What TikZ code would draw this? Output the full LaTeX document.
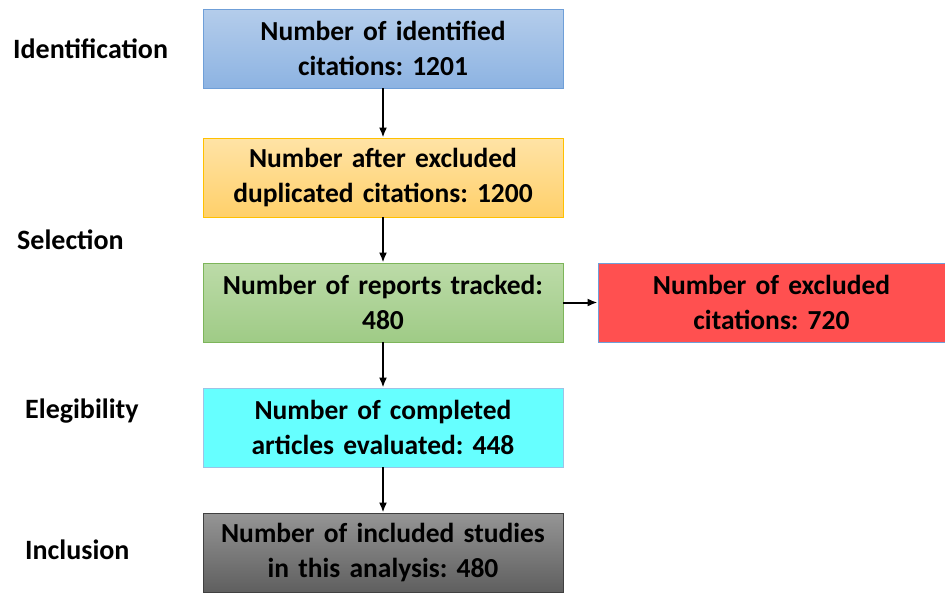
\documentclass[tikz,border=0pt]{standalone}
\usepackage{fontspec}
\setmainfont{Carlito}[WordSpace=0.8]
\usetikzlibrary{arrows.meta}
\frenchspacing
\definecolor{bluetop}{HTML}{B4CDEB}
\definecolor{bluebot}{HTML}{8DB3E2}
\definecolor{blueline}{HTML}{6F9FD8}
\definecolor{orangetop}{HTML}{FFE3A6}
\definecolor{orangebot}{HTML}{FFD06A}
\definecolor{orangeline}{HTML}{FFC000}
\definecolor{greentop}{HTML}{BCDBA8}
\definecolor{greenbot}{HTML}{9FCB86}
\definecolor{greenline}{HTML}{7DB55A}
\definecolor{cyanfill}{HTML}{66FFFF}
\definecolor{cyanline}{HTML}{9DC3E6}
\definecolor{redfill}{HTML}{FF5050}
\definecolor{grytop}{HTML}{959595}
\definecolor{grybot}{HTML}{5F5F5F}
\definecolor{gryline}{HTML}{404040}
\begin{document}
\begin{tikzpicture}[x=1pt, y=-1pt]
\tikzset{box/.style = {rectangle, minimum width=360pt, minimum height=79pt, text width=355pt,
   align=center, inner sep=0pt, line width=.8pt, font=\fontsize{27.5}{35}\selectfont\bfseries}}
\tikzset{edge/.style = {-{Latex[length=10pt, width=8pt]}, line width=2pt}}
\tikzset{stage/.style = {anchor=west, inner sep=0pt, font=\fontsize{28}{32}\selectfont\bfseries}}

\useasboundingbox (0, 0) rectangle (945, 592);

% boxes of the flow
\node[box, draw=blueline, top color=bluetop, bottom color=bluebot] (ident) at (383, 48.5)
   {Number of identified\\ citations: 1201};
\node[box, draw=orangeline, top color=orangetop, bottom color=orangebot] (dupl) at (383, 177.5)
   {Number after excluded\\ duplicated citations: 1200};
\node[box, draw=greenline, top color=greentop, bottom color=greenbot] (track) at (383, 302.5)
   {Number of reports tracked:\\ 480};
\node[box, draw=cyanline, fill=cyanfill] (eval) at (383, 427.5)
   {Number of completed\\ articles evaluated: 448};
\node[box, draw=gryline, top color=grytop, bottom color=grybot] (incl) at (383, 552.5)
   {Number of included studies\\ in this analysis: 480};
\node[box, minimum width=347pt, text width=340pt, draw=blueline, fill=redfill] (excl) at (771.5, 302.5)
   {Number of excluded\\ citations: 720};

% stage labels
\node[stage] (lident) at (13, 49) {Identification};
\node[stage] (lsel) at (17, 240) {Selection};
\node[stage] (lelig) at (25, 411) {Elegibility};
\node[stage] (lincl) at (25, 550) {Inclusion};

% connectors
\draw[edge] (ident) -- (dupl);
\draw[edge] (dupl) -- (track);
\draw[edge] (track) -- (eval);
\draw[edge] (eval) -- (incl);
\draw[edge] (track) -- (excl);

\end{tikzpicture}
\end{document}
